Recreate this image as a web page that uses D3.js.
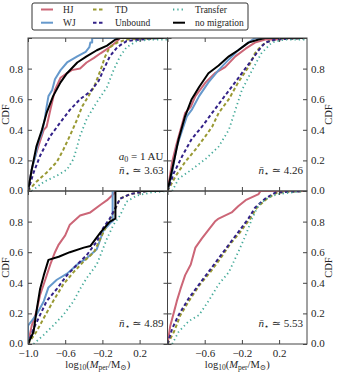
<!DOCTYPE html>
<html>
<head>
<meta charset="utf-8">
<script src="https://cdn.jsdelivr.net/npm/d3@7"></script>
<style>
body { margin: 0; background: #fff; }
text { font-family: "Liberation Serif", "DejaVu Serif", serif; fill: #262626; }
</style>
</head>
<body>
<div id="chart"></div>
<script>
// CDF points [log10(Mper/Msun), CDF]
// panel A: a0 = 1 AU, n = 3.63
const hjA = [[-1,0],[-0.96,0.14],[-0.94,0.19],[-0.89,0.29],[-0.83,0.40],[-0.80,0.42],[-0.76,0.53],[-0.71,0.66],[-0.65,0.74],[-0.58,0.77],[-0.53,0.79],[-0.44,0.80],[-0.37,0.84],[-0.29,0.87],[-0.22,0.90],[-0.12,0.94],[-0.04,0.98],[-0.01,1.0],[0.5,1.0]];
const wjA = [[-1,0],[-0.96,0.14],[-0.92,0.23],[-0.89,0.32],[-0.85,0.38],[-0.82,0.47],[-0.80,0.55],[-0.78,0.62],[-0.74,0.66],[-0.71,0.73],[-0.65,0.79],[-0.58,0.84],[-0.47,0.88],[-0.38,0.91],[-0.34,0.94],[-0.33,0.97],[-0.31,0.97],[-0.31,1.0],[0.5,1.0]];
const tdA = [[-1,0],[-0.91,0.06],[-0.80,0.12],[-0.69,0.19],[-0.62,0.27],[-0.55,0.36],[-0.47,0.47],[-0.42,0.55],[-0.37,0.60],[-0.29,0.68],[-0.22,0.79],[-0.17,0.88],[-0.12,0.94],[-0.04,0.97],[0.06,0.99],[0.42,1.0],[0.5,1.0]];
const ubA = [[-1,0],[-0.94,0.12],[-0.87,0.23],[-0.76,0.36],[-0.65,0.45],[-0.55,0.53],[-0.44,0.60],[-0.33,0.65],[-0.24,0.72],[-0.19,0.79],[-0.12,0.88],[-0.04,0.94],[0.06,0.98],[0.21,0.99],[0.42,1.0],[0.5,1.0]];
const trA = [[-0.96,0],[-0.83,0.06],[-0.69,0.10],[-0.58,0.14],[-0.51,0.21],[-0.44,0.36],[-0.37,0.47],[-0.26,0.58],[-0.15,0.68],[-0.08,0.79],[-0.01,0.88],[0.06,0.94],[0.17,0.98],[0.32,0.99],[0.5,0.99]];
const nmA = [[-1,0],[-0.96,0.14],[-0.91,0.29],[-0.85,0.40],[-0.80,0.51],[-0.73,0.62],[-0.65,0.71],[-0.58,0.77],[-0.47,0.84],[-0.37,0.88],[-0.26,0.92],[-0.15,0.95],[-0.06,0.99],[-0.01,1.0],[0.5,1.0]];

// panel B: n = 4.26
const hjB = [[-1,0],[-0.95,0.19],[-0.91,0.29],[-0.86,0.40],[-0.81,0.51],[-0.75,0.55],[-0.70,0.62],[-0.59,0.71],[-0.49,0.77],[-0.38,0.81],[-0.27,0.88],[-0.16,0.93],[-0.06,0.97],[0.05,0.99],[0.16,0.99],[0.34,1.0],[0.5,1.0]];
const wjB = [[-1,0],[-0.95,0.12],[-0.90,0.29],[-0.84,0.40],[-0.79,0.49],[-0.74,0.53],[-0.66,0.62],[-0.56,0.71],[-0.45,0.79],[-0.34,0.86],[-0.24,0.92],[-0.13,0.97],[-0.06,1.0],[0.5,1.0]];
const tdB = [[-1,0],[-0.91,0.10],[-0.81,0.19],[-0.70,0.27],[-0.59,0.36],[-0.52,0.42],[-0.45,0.51],[-0.34,0.60],[-0.24,0.71],[-0.13,0.81],[-0.06,0.90],[0.01,0.95],[0.12,0.99],[0.48,1.0],[0.5,1.0]];
const ubB = [[-1,0],[-0.93,0.12],[-0.84,0.23],[-0.74,0.34],[-0.63,0.42],[-0.52,0.51],[-0.41,0.60],[-0.31,0.68],[-0.20,0.77],[-0.09,0.86],[-0.02,0.92],[0.05,0.97],[0.16,0.99],[0.48,1.0],[0.5,1.0]];
const trB = [[-0.95,0],[-0.88,0.08],[-0.74,0.14],[-0.59,0.21],[-0.45,0.29],[-0.34,0.40],[-0.27,0.53],[-0.20,0.66],[-0.09,0.79],[0.01,0.90],[0.12,0.97],[0.26,0.99],[0.5,0.99]];
const nmB = [[-1,0],[-0.95,0.14],[-0.88,0.34],[-0.81,0.49],[-0.74,0.60],[-0.66,0.68],[-0.56,0.77],[-0.45,0.82],[-0.34,0.88],[-0.24,0.92],[-0.13,0.97],[-0.02,0.99],[0.05,1.0],[0.5,1.0]];

// panel C: n = 4.89
const hjC = [[-1,0],[-0.96,0.12],[-0.91,0.21],[-0.87,0.32],[-0.82,0.41],[-0.76,0.52],[-0.71,0.60],[-0.67,0.65],[-0.60,0.71],[-0.55,0.78],[-0.44,0.84],[-0.33,0.86],[-0.22,0.91],[-0.15,0.94],[-0.08,0.98],[-0.06,1.0],[0.5,1.0]];
const wjC = [[-1,0],[-1,0.12],[-0.91,0.19],[-0.83,0.28],[-0.78,0.37],[-0.69,0.42],[-0.58,0.46],[-0.47,0.52],[-0.37,0.56],[-0.26,0.62],[-0.19,0.74],[-0.10,0.80],[-0.09,0.80],[-0.09,1.0],[0.5,1.0]];
const tdC = [[-1,0],[-0.91,0.08],[-0.83,0.17],[-0.73,0.28],[-0.62,0.39],[-0.51,0.47],[-0.40,0.54],[-0.29,0.60],[-0.22,0.69],[-0.15,0.78],[-0.08,0.86],[-0.01,0.95],[0.10,0.98],[0.28,1.0],[0.5,1.0]];
const ubC = [[-1,0],[-0.94,0.10],[-0.87,0.19],[-0.80,0.28],[-0.69,0.36],[-0.58,0.45],[-0.47,0.52],[-0.37,0.58],[-0.26,0.67],[-0.19,0.76],[-0.12,0.82],[-0.06,0.89],[-0.01,0.95],[0.10,0.98],[0.28,1.0],[0.5,1.0]];
const trC = [[-0.94,0],[-0.83,0.06],[-0.73,0.12],[-0.62,0.19],[-0.51,0.28],[-0.44,0.36],[-0.37,0.43],[-0.26,0.52],[-0.15,0.69],[-0.08,0.78],[-0.01,0.84],[0.06,0.93],[0.17,0.97],[0.32,0.99],[0.5,1.0]];
const nmC = [[-1,0],[-0.94,0.08],[-0.91,0.21],[-0.87,0.36],[-0.83,0.45],[-0.78,0.55],[-0.67,0.57],[-0.55,0.60],[-0.40,0.63],[-0.33,0.64],[-0.22,0.73],[-0.12,0.80],[-0.06,0.82],[-0.06,1.0],[0.5,1.0]];

// panel D: n = 5.53 (no WJ, no no-migration curve)
const hjD = [[-1,0],[-0.97,0.12],[-0.93,0.21],[-0.90,0.28],[-0.86,0.36],[-0.81,0.45],[-0.75,0.52],[-0.70,0.63],[-0.63,0.69],[-0.58,0.73],[-0.49,0.80],[-0.45,0.82],[-0.31,0.86],[-0.24,0.90],[-0.16,0.94],[-0.02,0.98],[0.0,1.0],[0.5,1.0]];
const tdD = [[-1,0],[-0.93,0.08],[-0.86,0.19],[-0.75,0.30],[-0.65,0.39],[-0.54,0.47],[-0.43,0.56],[-0.33,0.65],[-0.22,0.73],[-0.11,0.82],[-0.04,0.89],[0.07,0.95],[0.18,0.99],[0.48,1.0],[0.5,1.0]];
const ubD = [[-1,0],[-0.95,0.10],[-0.88,0.19],[-0.77,0.30],[-0.66,0.39],[-0.56,0.47],[-0.45,0.56],[-0.34,0.65],[-0.24,0.73],[-0.13,0.82],[-0.06,0.89],[0.05,0.95],[0.16,0.99],[0.48,1.0],[0.5,1.0]];
const trD = [[-0.95,0],[-0.88,0.08],[-0.77,0.15],[-0.66,0.19],[-0.56,0.28],[-0.45,0.39],[-0.34,0.47],[-0.24,0.60],[-0.16,0.71],[-0.09,0.82],[-0.02,0.91],[0.09,0.96],[0.19,0.98],[0.48,1.0],[0.5,1.0]];

const nStar = ["3.63", "4.26", "4.89", "5.53"];
const xTicks = [-1.0, -0.6, -0.2, 0.2];
const yTicks = [0, 0.2, 0.4, 0.6, 0.8, 1.0];

const styles = {
  HJ:       { color: "#cc6677", width: 2,   dash: null },
  WJ:       { color: "#6699cc", width: 2,   dash: null },
  TD:       { color: "#999933", width: 2,   dash: "3.5,2.5" },
  Unbound:  { color: "#332288", width: 2,   dash: "3.5,2.5" },
  Transfer: { color: "#44aa99", width: 1.8, dash: "1.3,3" },
  "no migration": { color: "#000000", width: 2, dash: null }
};

const W = 343, H = 383;
const svg = d3.select("#chart").append("svg").attr("width", W).attr("height", H);

const pw = 139.5, ph = 153;
const panels = [
  { x: 28,      y: 38,      side: "left",  bottom: false, series: { HJ: hjA, WJ: wjA, TD: tdA, Unbound: ubA, Transfer: trA, "no migration": nmA } },
  { x: 28 + pw, y: 38,      side: "right", bottom: false, series: { HJ: hjB, WJ: wjB, TD: tdB, Unbound: ubB, Transfer: trB, "no migration": nmB } },
  { x: 28,      y: 38 + ph, side: "left",  bottom: true,  series: { HJ: hjC, WJ: wjC, TD: tdC, Unbound: ubC, Transfer: trC, "no migration": nmC } },
  { x: 28 + pw, y: 38 + ph, side: "right", bottom: true,  series: { HJ: hjD, TD: tdD, Unbound: ubD, Transfer: trD } }
];

const fmt = d3.format(".1f");

panels.forEach((p, i) => {
  const g = svg.append("g").attr("transform", `translate(${p.x},${p.y})`);
  const x = d3.scaleLinear().domain([-1, 0.5]).range([0, pw]);
  const y = d3.scaleLinear().domain([0, 1]).range([ph, 0]);

  g.append("clipPath").attr("id", "clip" + i)
    .append("rect").attr("width", pw).attr("height", ph);

  const line = d3.line().x(d => x(d[0])).y(d => y(d[1]));
  Object.keys(p.series).forEach(k => {
    const s = styles[k];
    g.append("path")
      .datum(p.series[k])
      .attr("clip-path", `url(#clip${i})`)
      .attr("fill", "none")
      .attr("stroke", s.color)
      .attr("stroke-width", s.width)
      .attr("stroke-dasharray", s.dash)
      .attr("stroke-linejoin", "round")
      .attr("d", line);
  });

  // ticks inside on all four sides
  const xb = g.append("g").attr("transform", `translate(0,${ph})`)
    .call(d3.axisBottom(x).tickValues(xTicks).tickSizeInner(-4).tickSizeOuter(0).tickPadding(5.5)
      .tickFormat(d => (p.bottom && !(p.side === "right" && d === -1)) ? fmt(d) : ""));
  const xt = g.append("g")
    .call(d3.axisTop(x).tickValues(xTicks).tickSizeInner(-4).tickSizeOuter(0).tickFormat(""));
  const yl = g.append("g")
    .call(d3.axisLeft(y).tickValues(yTicks).tickSizeInner(-4).tickSizeOuter(0).tickPadding(5)
      .tickFormat(d => (p.side === "left" && d < 1) ? fmt(d) : ""));
  const yr = g.append("g").attr("transform", `translate(${pw},0)`)
    .call(d3.axisRight(y).tickValues(yTicks).tickSizeInner(-4).tickSizeOuter(0).tickPadding(4)
      .tickFormat(d => (p.side === "right" && d < 1) ? fmt(d) : ""));
  [xb, xt, yl, yr].forEach(a => {
    a.attr("font-family", null).attr("font-size", null);
    a.select(".domain").remove();
    a.selectAll("line").attr("stroke", "#444");
    a.selectAll("text").attr("font-size", 11).attr("fill", "#262626");
  });
  // lift the 0.0 label a touch so it clears the x labels
  yl.selectAll(".tick text").filter(d => d === 0).attr("dy", "0.2em");
  yr.selectAll(".tick text").filter(d => d === 0).attr("dy", "0.2em");

  g.append("rect").attr("width", pw).attr("height", ph)
    .attr("fill", "none").attr("stroke", "#444").attr("stroke-width", 1);

  // CDF label
  const lx = p.side === "left" ? -19 : pw + 25;
  g.append("text")
    .attr("transform", `translate(${lx},${ph / 2}) rotate(-90)`)
    .attr("text-anchor", "middle")
    .attr("font-size", 10.5)
    .text("CDF");

  // annotation
  if (i === 0) {
    const t = g.append("text").attr("x", pw - 4).attr("y", ph - 31)
      .attr("text-anchor", "end").attr("font-size", 11);
    t.append("tspan").attr("font-style", "italic").text("a");
    t.append("tspan").attr("font-size", 8).attr("dy", 2).text("0");
    t.append("tspan").attr("dy", -2).text(" = 1\u2009AU");
  }
  const n = g.append("text").attr("x", pw - 4).attr("y", ph - 17)
    .attr("text-anchor", "end").attr("font-size", 11);
  n.append("tspan").attr("font-style", "italic").text("n\u0304");
  n.append("tspan").attr("font-size", 8).attr("dy", 2).text("\u22c6");
  n.append("tspan").attr("dy", -2).text(" \u2243 " + nStar[i]);

  // x label
  if (p.bottom) {
    const xl = g.append("text").attr("x", pw / 2).attr("y", ph + 24)
      .attr("text-anchor", "middle").attr("font-size", 10.5);
    xl.append("tspan").text("log");
    xl.append("tspan").attr("font-size", 7.5).attr("dy", 2).text("10");
    xl.append("tspan").attr("dy", -2).text("(");
    xl.append("tspan").attr("font-style", "italic").text("M");
    xl.append("tspan").attr("font-size", 7.5).attr("dy", 2).text("per");
    xl.append("tspan").attr("dy", -2).text("/M");
    xl.append("tspan").attr("font-size", 7.5).attr("dy", 2).text("\u2299");
    xl.append("tspan").attr("dy", -2).text(")");
  }
});

// legend
const legendKeys = ["HJ", "WJ", "TD", "Unbound", "Transfer", "no migration"];
const legendCols = [9, 61, 141];
const lg = svg.append("g").attr("transform", "translate(32,3)");
lg.append("rect").attr("width", 216).attr("height", 27).attr("rx", 2)
  .attr("fill", "#fff").attr("stroke", "#333").attr("stroke-width", 1);
legendKeys.forEach((k, j) => {
  const col = Math.floor(j / 2), row = j % 2;
  const s = styles[k];
  const e = lg.append("g").attr("transform", `translate(${legendCols[col]},${6.5 + row * 13.2})`);
  e.append("line").attr("x1", 0).attr("x2", 12).attr("y1", 0).attr("y2", 0)
    .attr("stroke", s.color).attr("stroke-width", s.width).attr("stroke-dasharray", s.dash);
  e.append("text").attr("x", 22).attr("y", 3.3).attr("font-size", 9.5).text(k);
});
</script>
</body>
</html>
